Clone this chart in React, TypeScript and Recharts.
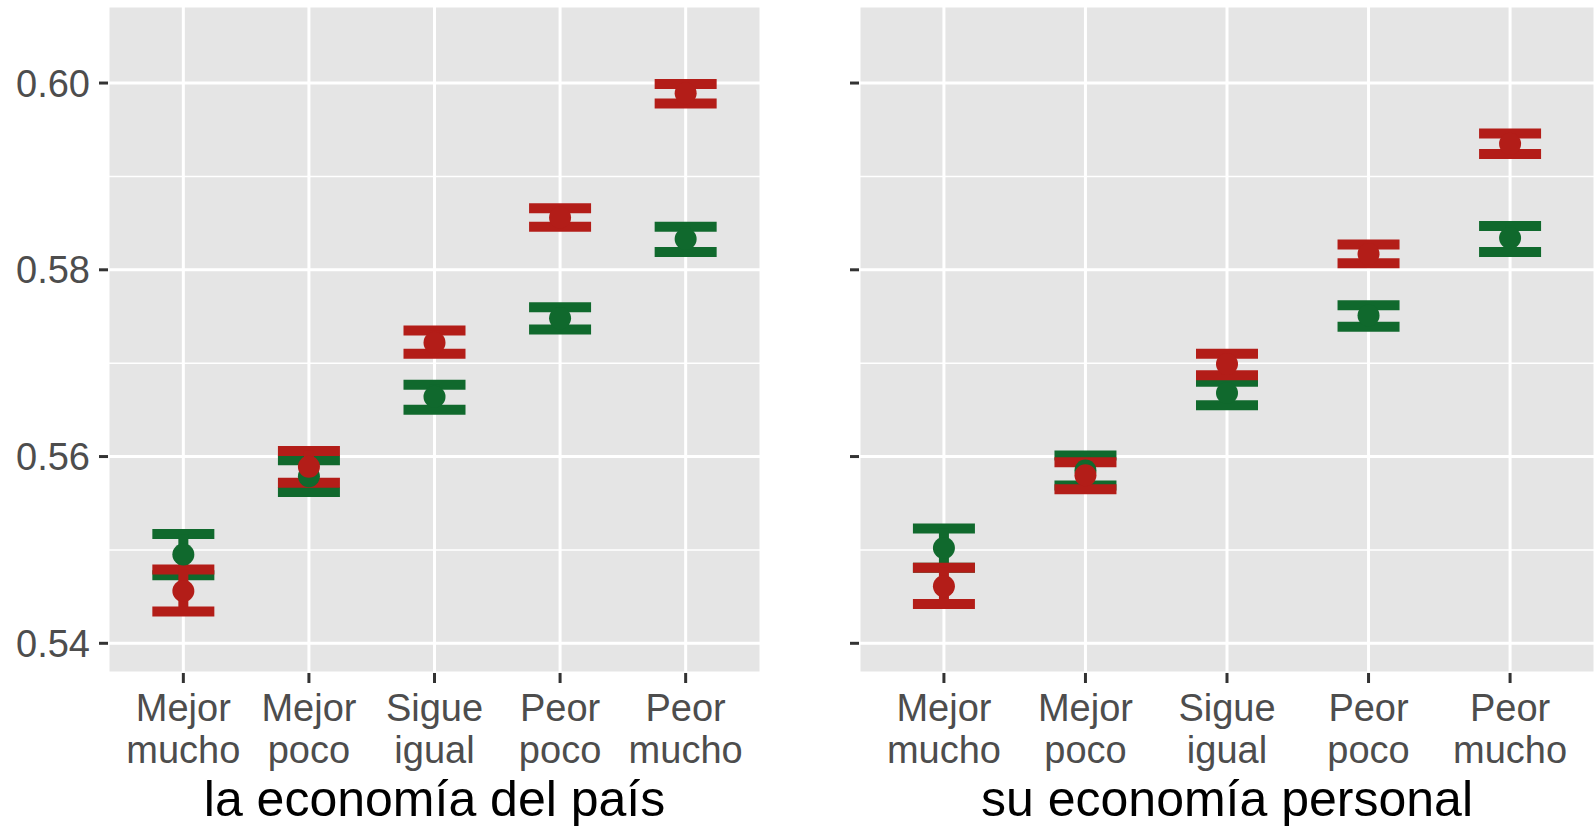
import {
  ScatterChart,
  Scatter,
  XAxis,
  YAxis,
  CartesianGrid,
  ErrorBar,
  ReferenceLine,
} from "recharts"

const categories = [
  "Mejor\nmucho",
  "Mejor\npoco",
  "Sigue\nigual",
  "Peor\npoco",
  "Peor\nmucho",
]
const yTicks = [0.54, 0.56, 0.58, 0.6]
const yMinor = [0.55, 0.57, 0.59]

// la economía del país
const paisGreenMean = [0.5495, 0.5579, 0.5664, 0.5748, 0.5833]
const paisGreenLow = [0.5473, 0.5562, 0.565, 0.5736, 0.5819]
const paisGreenHigh = [0.5517, 0.5596, 0.5677, 0.576, 0.5846]
const paisRedMean = [0.5456, 0.5589, 0.5722, 0.5856, 0.5989]
const paisRedLow = [0.5434, 0.5572, 0.571, 0.5846, 0.5978]
const paisRedHigh = [0.5479, 0.5606, 0.5735, 0.5866, 0.5999]

// su economía personal
const personalGreenMean = [0.5502, 0.5585, 0.5668, 0.5751, 0.5834]
const personalGreenLow = [0.5481, 0.5569, 0.5655, 0.5739, 0.5819]
const personalGreenHigh = [0.5523, 0.5601, 0.568, 0.5762, 0.5847]
const personalRedMean = [0.5461, 0.558, 0.5699, 0.5817, 0.5935]
const personalRedLow = [0.5442, 0.5565, 0.5687, 0.5807, 0.5924]
const personalRedHigh = [0.5481, 0.5594, 0.571, 0.5827, 0.5946]

const GREEN = "#10692D"
const RED = "#B31D18"
const PANEL_BG = "#E5E5E5"
const TEXT_GREY = "#4D4D4D"

type Row = { x: number; y: number; err: [number, number] }

function toRows(mean: number[], low: number[], high: number[]): Row[] {
  return mean.map((m, i) => ({
    x: i + 1,
    y: m,
    err: [m - low[i], high[i] - m],
  }))
}

function CategoryTick(props: any) {
  const { x, y, payload } = props
  const [top, bottom] = categories[payload.value - 1].split("\n")
  return (
    <text x={x} y={y} textAnchor="middle" fill={TEXT_GREY} fontSize={38}>
      <tspan x={x} dy={38}>
        {top}
      </tspan>
      <tspan x={x} dy={42}>
        {bottom}
      </tspan>
    </text>
  )
}

const dot = (color: string) => (p: any) =>
  <circle cx={p.cx} cy={p.cy} r={11} fill={color} />

interface PanelProps {
  title: string
  green: Row[]
  red: Row[]
  width: number
  yAxisWidth: number
  showYLabels: boolean
}

function Panel({ title, green, red, width, yAxisWidth, showYLabels }: PanelProps) {
  return (
    <ScatterChart
      width={width}
      height={826}
      margin={{ top: 6, right: 0, bottom: 0, left: 0 }}
    >
      <CartesianGrid
        fill={PANEL_BG}
        stroke="#FFFFFF"
        strokeWidth={3}
        strokeDasharray=""
      />
      {yMinor.map((v) => (
        <ReferenceLine key={v} y={v} stroke="#FFFFFF" strokeWidth={1.5} />
      ))}
      <XAxis
        type="number"
        dataKey="x"
        domain={[0.4, 5.6]}
        ticks={[1, 2, 3, 4, 5]}
        allowDataOverflow
        height={153}
        axisLine={false}
        tickLine={{ stroke: "#333333", strokeWidth: 3 }}
        tickSize={10}
        tickMargin={0}
        tick={<CategoryTick />}
        interval={0}
        label={{
          value: title,
          position: "insideBottom",
          offset: 10,
          fill: "#000000",
          fontSize: 50,
        }}
      />
      <YAxis
        type="number"
        dataKey="y"
        domain={[0.53682, 0.60825]}
        ticks={yTicks}
        allowDataOverflow
        width={yAxisWidth}
        axisLine={false}
        tickLine={{ stroke: "#333333", strokeWidth: 3 }}
        tickSize={9}
        tickMargin={9}
        tick={{ fill: TEXT_GREY, fontSize: 38 }}
        tickFormatter={(v: number) => (showYLabels ? v.toFixed(2) : "")}
        interval={0}
      />
      <Scatter data={green} fill={GREEN} shape={dot(GREEN)} isAnimationActive={false}>
        <ErrorBar
          dataKey="err"
          direction="y"
          width={31}
          strokeWidth={10}
          stroke={GREEN}
          isAnimationActive={false}
        />
      </Scatter>
      <Scatter data={red} fill={RED} shape={dot(RED)} isAnimationActive={false}>
        <ErrorBar
          dataKey="err"
          direction="y"
          width={31}
          strokeWidth={10}
          stroke={RED}
          isAnimationActive={false}
        />
      </Scatter>
    </ScatterChart>
  )
}

export default function App() {
  return (
    <div
      style={{
        position: "absolute",
        left: 0,
        top: 0,
        width: 1595,
        height: 826,
        background: "#FFFFFF",
        fontFamily: "'Liberation Sans', Arial, sans-serif",
        overflow: "hidden",
      }}
    >
      <div style={{ position: "absolute", left: 0, top: 0 }}>
        <Panel
          title="la economía del país"
          green={toRows(paisGreenMean, paisGreenLow, paisGreenHigh)}
          red={toRows(paisRedMean, paisRedLow, paisRedHigh)}
          width={761}
          yAxisWidth={108}
          showYLabels
        />
      </div>
      <div style={{ position: "absolute", left: 770, top: 0 }}>
        <Panel
          title="su economía personal"
          green={toRows(personalGreenMean, personalGreenLow, personalGreenHigh)}
          red={toRows(personalRedMean, personalRedLow, personalRedHigh)}
          width={825}
          yAxisWidth={89}
          showYLabels={false}
        />
      </div>
    </div>
  )
}
